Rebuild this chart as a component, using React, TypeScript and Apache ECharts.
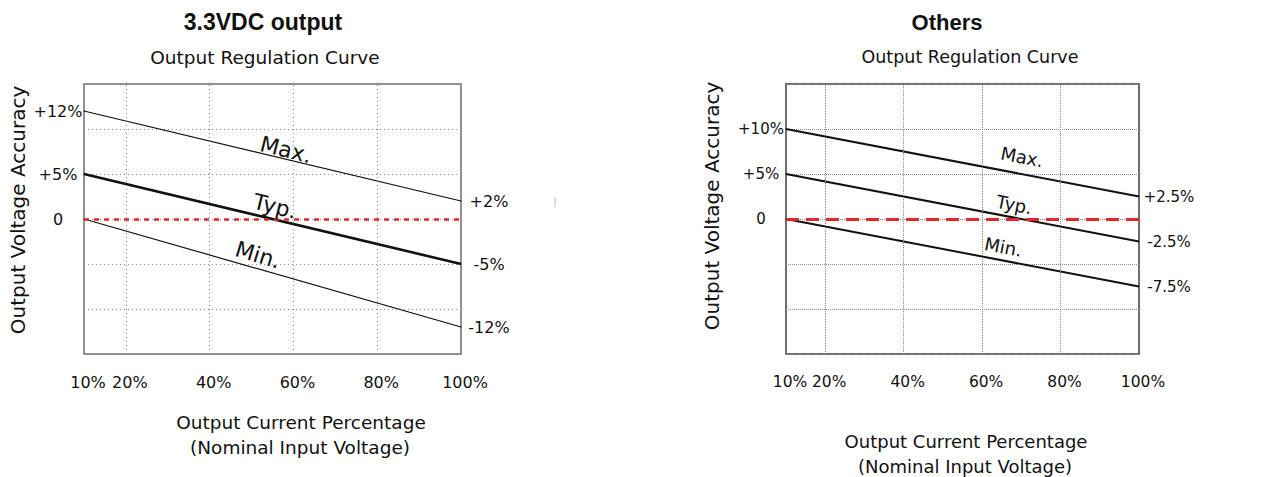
import React, { useEffect, useRef } from "react";
import * as echarts from "echarts";

// ---- data ----
const loadPct = [10, 100];
const xTickLabels = [10, 20, 40, 60, 80, 100];
const xGridLines = [20, 40, 60, 80];
const curveNames = ["Max.", "Typ.", "Min."];

const leftMax = [12, 2];
const leftTyp = [5, -5];
const leftMin = [0, -12];

const rightMax = [10, 2.5];
const rightTyp = [5, -2.5];
const rightMin = [0, -7.5];

// where each curve name sits (in data units)
const leftNameAt = [[58.2, 7.7], [55.6, 1.4], [51.5, -4.0]];
const rightNameAt = [[70.2, 6.9], [68.2, 1.6], [65.4, -3.1]];

const FONT = "'DejaVu Sans', sans-serif";

const fmtPct = (v: number) => (v === 0 ? "0" : (v > 0 ? "+" : "") + v + "%");

function curve(
  idx: number,
  nameIdx: number,
  vals: number[],
  width: number,
  fontSize: number,
  startOff: number,
  endOff: number,
  nameAt: number[],
  nameRot: number,
  nameSize: number
) {
  return {
    type: "line",
    name: curveNames[nameIdx],
    xAxisIndex: idx,
    yAxisIndex: idx,
    silent: true,
    z: 3,
    symbol: "circle",
    symbolSize: 1,
    showSymbol: true,
    itemStyle: { color: "#111" },
    lineStyle: { width, color: "#111" },
    data: loadPct.map((x, i) => ({
      value: [x, vals[i]],
      label: { offset: i === 0 ? [startOff, 0] : [endOff, 0] },
    })),
    label: {
      show: true,
      position: "inside",
      formatter: (p: any) => fmtPct(p.value[1]),
      color: "#111",
      fontSize,
      fontFamily: FONT,
    },
    markPoint: {
      silent: true,
      symbol: "circle",
      symbolSize: 1,
      itemStyle: { color: "rgba(0,0,0,0)" },
      label: {
        show: true,
        position: "inside",
        formatter: curveNames[nameIdx],
        rotate: nameRot,
        color: "#111",
        fontSize: nameSize,
        fontFamily: FONT,
      },
      data: [{ coord: nameAt }],
    },
  };
}

function guides(idx: number, dotType: any, zeroType: any, zeroWidth: number) {
  return [
    {
      type: "line",
      xAxisIndex: idx,
      yAxisIndex: idx,
      data: [],
      silent: true,
      z: 1,
      markLine: {
        silent: true,
        symbol: ["none", "none"],
        label: { show: false },
        lineStyle: { color: "#8a8a8a", width: 1, type: dotType },
        data: xGridLines.map((x) => ({ xAxis: x })),
      },
    },
    {
      type: "line",
      xAxisIndex: idx,
      yAxisIndex: idx,
      data: [],
      silent: true,
      z: 5,
      markLine: {
        silent: true,
        symbol: ["none", "none"],
        label: { show: false },
        lineStyle: { color: "#e0282a", width: zeroWidth, type: zeroType },
        data: [{ yAxis: 0 }],
      },
    },
  ];
}

function xAxis(idx: number, fontSize: number) {
  return {
    type: "value",
    gridIndex: idx,
    min: 10,
    max: 100,
    interval: 10,
    axisLine: { show: false },
    axisTick: { show: false },
    splitLine: { show: false },
    axisLabel: {
      margin: 20,
      fontSize,
      fontFamily: FONT,
      color: "#111",
      padding: [0, 0, 0, 8],
      formatter: (v: number) => (xTickLabels.indexOf(v) >= 0 ? v + "%" : ""),
    },
  };
}

function yAxis(idx: number, dotType: any) {
  return {
    type: "value",
    gridIndex: idx,
    min: -15,
    max: 15,
    interval: 5,
    axisLine: { show: false },
    axisTick: { show: false },
    axisLabel: { show: false },
    splitLine: { show: true, lineStyle: { color: "#8a8a8a", width: 1, type: dotType } },
  };
}

const txt = (text: string, x: number, y: number, font: string, extra: any = {}) => ({
  type: "text",
  x,
  y,
  silent: true,
  ...extra,
  style: {
    text,
    font,
    fill: "#111",
    textAlign: "center",
    textVerticalAlign: "middle",
  },
});

export default function App() {
  const ref = useRef<HTMLDivElement>(null);
  useEffect(() => {
    if (!ref.current) return;
    const chart = echarts.init(ref.current, null, { renderer: "svg" });
    const leftDot = [1, 3];
    const rightDot = [1, 1];
    chart.setOption({
      animation: false,
      backgroundColor: "#fff",
      grid: [
        { left: 84, top: 84, width: 377, height: 270, show: true, borderColor: "#6e6e6e", borderWidth: 1.5 },
        { left: 786, top: 84, width: 353, height: 270, show: true, borderColor: "#6e6e6e", borderWidth: 2 },
      ],
      xAxis: [xAxis(0, 16), xAxis(1, 15.5)],
      yAxis: [yAxis(0, leftDot), yAxis(1, rightDot)],
      series: [
        ...guides(0, leftDot, [5, 5], 2.5),
        ...guides(1, rightDot, [13, 7], 3),
        curve(0, 0, leftMax, 1.2, 16, -26, 28, leftNameAt[0], -14, 22),
        curve(0, 1, leftTyp, 2.6, 16, -26, 28, leftNameAt[1], -14, 22),
        curve(0, 2, leftMin, 1.2, 16, -26, 28, leftNameAt[2], -17, 22),
        curve(1, 0, rightMax, 2, 15, -25, 30, rightNameAt[0], -11, 18),
        curve(1, 1, rightTyp, 2, 15, -25, 30, rightNameAt[1], -11, 18),
        curve(1, 2, rightMin, 2, 15, -25, 30, rightNameAt[2], -11, 18),
      ],
      graphic: [
        txt("3.3VDC output", 263, 22, "bold 23px 'Liberation Sans', Arial, sans-serif"),
        txt("Others", 947, 22, "bold 22px 'Liberation Sans', Arial, sans-serif"),
        txt("Output Regulation Curve", 265, 57, "18.5px " + FONT),
        txt("Output Regulation Curve", 970, 57, "17.5px " + FONT),
        txt("Output Voltage Accuracy", 18, 210, "20px " + FONT, { rotation: Math.PI / 2 }),
        txt("Output Voltage Accuracy", 712, 206, "20px " + FONT, { rotation: Math.PI / 2 }),
        txt("Output Current Percentage", 301, 422, "18.5px " + FONT),
        txt("(Nominal Input Voltage)", 300, 447, "18.5px " + FONT),
        txt("Output Current Percentage", 966, 441, "18px " + FONT),
        txt("(Nominal Input Voltage)", 965, 466, "18px " + FONT),
        {
          type: "line",
          silent: true,
          shape: { x1: 555, y1: 197, x2: 555, y2: 207 },
          style: { stroke: "#bbb", lineWidth: 1 },
        },
      ],
    });
    return () => chart.dispose();
  }, []);
  return (
    <div
      ref={ref}
      style={{ position: "absolute", left: 0, top: 0, width: 1285, height: 477, background: "#fff" }}
    />
  );
}
